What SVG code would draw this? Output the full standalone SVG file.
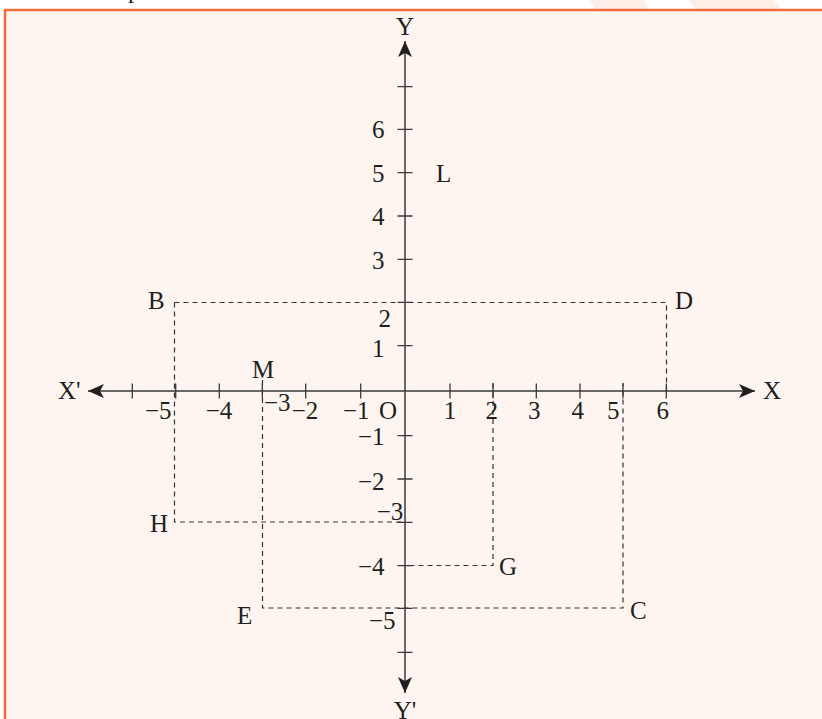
<svg xmlns="http://www.w3.org/2000/svg" width="822" height="719" viewBox="0 0 822 719">
<style>
text{font-family:"Liberation Serif","Times New Roman",serif;font-size:25px;fill:#231f20}
.ax{stroke:#3a3a3a;stroke-width:1.5;fill:none}
.tk{stroke:#3a3a3a;stroke-width:1.3;fill:none}
.ds{stroke:#333;stroke-width:1.2;stroke-dasharray:5 4;fill:none}
.m{text-anchor:middle}
.e{text-anchor:end}
</style>
<defs>
<marker id="ah" markerUnits="userSpaceOnUse" markerWidth="20" markerHeight="16" refX="16" refY="7" orient="auto" viewBox="0 0 20 14">
<path d="M16,7 L0,0 L4,7 L0,14 Z" fill="#231f20"/>
</marker>
</defs>
<rect x="0" y="0" width="822" height="719" fill="#ffffff"/>
<polygon points="590,0 645,0 649,10 596,10" fill="#fdeee8"/>
<polygon points="688,0 773,0 783,10 697,10" fill="#fdeee8"/>
<text x="128" y="-2">p</text>
<rect x="5" y="10" width="830" height="720" fill="#fef5f0" stroke="#f26b3a" stroke-width="2.5"/>

<g id="connectors">
<path class="ds" d="M174.5,302.5 H666.5 V391"/>
<path class="ds" d="M174.5,302.5 V522 H405"/>
<path class="ds" d="M262.5,380 V608 H623 V383"/>
<path class="ds" d="M493,383 V565.5 H398"/>
</g>

<g id="axes">
<line class="ax" x1="405" y1="391" x2="88" y2="391" marker-end="url(#ah)"/>
<line class="ax" x1="405" y1="391" x2="755" y2="391" marker-end="url(#ah)"/>
<line class="ax" x1="405" y1="391" x2="405" y2="41" marker-end="url(#ah)"/>
<line class="ax" x1="405" y1="391" x2="405" y2="693" marker-end="url(#ah)"/>
<path class="tk" d="M132.3,383.5V398.5 M175.7,383.5V398.5 M219.3,383.5V398.5 M262.3,383.5V398.5 M305.7,383.5V398.5 M360.7,383.5V398.5 M450,383.5V398.5 M493,383.5V398.5 M536.3,383.5V398.5 M580,383.5V398.5 M623,383.5V398.5 M666.3,383.5V398.5"/>
<path class="tk" d="M397.5,86.7H412.5 M397.5,129.3H412.5 M397.5,172.7H412.5 M397.5,216H412.5 M397.5,259.3H412.5 M397.5,302.3H412.5 M397.5,345.7H412.5 M397.5,435.7H412.5 M397.5,479H412.5 M397.5,522.3H412.5 M397.5,565.7H412.5 M397.5,608.3H412.5 M397.5,652.3H412.5"/>
</g>

<g id="axis-labels">
<text x="405" y="35" class="m">Y</text>
<text x="405" y="719" class="m">Y'</text>
<text x="763" y="399">X</text>
<text x="58" y="399">X'</text>
<text x="145" y="419">−5</text>
<text x="205.7" y="419">−4</text>
<text x="264" y="411">−3</text>
<text x="291.7" y="419">−2</text>
<text x="343" y="419">−1</text>
<text x="379" y="419">O</text>
<text x="450" y="419" class="m">1</text>
<text x="491.7" y="419" class="m">2</text>
<text x="534.3" y="419" class="m">3</text>
<text x="577.7" y="419" class="m">4</text>
<text x="613.3" y="419" class="m">5</text>
<text x="662.7" y="419" class="m">6</text>
<text x="384.5" y="138.3" class="e">6</text>
<text x="384.5" y="182.3" class="e">5</text>
<text x="384.5" y="225" class="e">4</text>
<text x="384.5" y="269.3" class="e">3</text>
<text x="391" y="326.7" class="e">2</text>
<text x="384.5" y="356.5" class="e">1</text>
<text x="358" y="445">−1</text>
<text x="358" y="490">−2</text>
<text x="376.7" y="520">−3</text>
<text x="358" y="575">−4</text>
<text x="369" y="629">−5</text>
</g>

<g id="point-B"><text x="148" y="309">B</text></g>
<g id="point-D"><text x="675" y="309">D</text></g>
<g id="point-H"><text x="150" y="532">H</text></g>
<g id="point-G"><text x="499" y="575">G</text></g>
<g id="point-E"><text x="237" y="624">E</text></g>
<g id="point-C"><text x="630" y="619">C</text></g>
<g id="point-M"><text x="252" y="378">M</text></g>
<g id="point-L"><text x="436" y="182">L</text></g>
</svg>
